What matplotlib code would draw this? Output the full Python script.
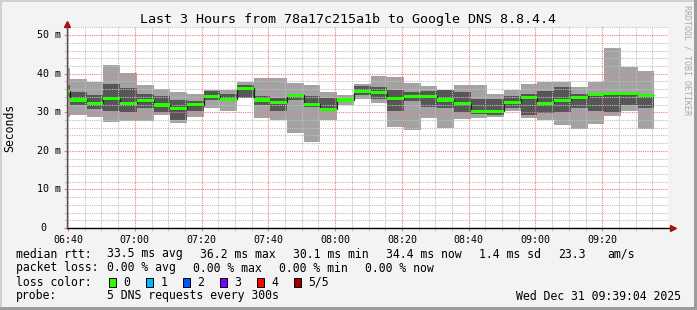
import numpy as np
import matplotlib.pyplot as plt
from matplotlib.patches import Rectangle
from matplotlib.ticker import FixedLocator, FuncFormatter
from matplotlib.transforms import blended_transform_factory

plt.rcParams['font.family'] = 'DejaVu Sans Mono'

W, H = 697, 310

# 5 minute steps (ms), first step is cut by the left edge
rtt_min = [28.8, 29.3, 28.8, 27.5, 27.7, 27.7, 29.3, 27.3, 28.8, 31.2, 30.3, 33.8,
           28.6, 28.0, 24.7, 22.3, 28.0, 31.9, 33.4, 32.5, 26.1, 25.4, 28.4, 26.0,
           28.2, 28.4, 28.8, 30.3, 28.4, 28.0, 26.7, 25.6, 26.9, 29.1, 30.3, 25.6]
rtt_low = [34.0, 31.9, 30.8, 30.3, 30.1, 31.2, 30.0, 28.0, 30.3, 33.2, 32.9, 33.8,
           31.9, 30.3, 33.2, 31.4, 30.5, 32.6, 34.6, 33.4, 30.3, 32.9, 31.4, 31.2,
           30.0, 29.6, 29.4, 31.2, 29.3, 29.7, 30.0, 31.2, 30.3, 30.0, 31.9, 31.0]
rtt_median = [35.5, 33.2, 32.4, 33.5, 32.4, 33.0, 31.9, 30.9, 32.0, 34.2, 33.4, 36.2,
              33.2, 32.6, 34.4, 32.1, 30.8, 33.2, 35.3, 35.1, 33.5, 34.2, 34.2, 33.2,
              32.2, 30.1, 30.3, 32.6, 33.8, 32.4, 33.1, 33.8, 34.5, 34.8, 34.8, 34.4]
rtt_high = [37.2, 35.3, 34.5, 37.3, 36.3, 34.7, 34.2, 33.2, 32.9, 35.5, 34.7, 37.0,
            34.3, 33.8, 34.6, 34.2, 33.8, 33.8, 36.9, 36.6, 35.7, 35.2, 35.5, 35.7,
            35.3, 33.4, 33.4, 34.2, 34.7, 35.6, 36.5, 34.7, 34.9, 35.1, 34.9, 34.8]
rtt_max = [41.4, 38.6, 37.8, 42.2, 40.1, 37.0, 36.0, 35.2, 34.7, 35.9, 35.9, 37.9,
           38.8, 38.8, 37.5, 37.2, 35.3, 34.5, 37.3, 39.4, 39.1, 37.5, 36.8, 35.9,
           37.0, 37.0, 34.7, 35.8, 37.3, 37.9, 37.9, 36.5, 37.9, 46.7, 41.7, 40.7]

time_labels = ['06:40', '07:00', '07:20', '07:40', '08:00', '08:20', '08:40', '09:00', '09:20']
loss_labels = ['0', '1', '2', '3', '4', '5/5']
loss_colors = ['#26ff00', '#00b8ff', '#0059ff', '#7e00ff', '#ff0000', '#a10000']

# step edges in minutes after 06:40
edges = np.concatenate([[-0.4], np.arange(0.6, 176, 5.0)])
left = edges[:-1]
width = np.diff(edges)

rtt_min = np.array(rtt_min)
rtt_low = np.array(rtt_low)
rtt_median = np.array(rtt_median)
rtt_high = np.array(rtt_high)
rtt_max = np.array(rtt_max)

fig = plt.figure(figsize=(W / 100, H / 100), dpi=100, facecolor='#f3f3f3')
ax = fig.add_axes([66.7 / W, 1 - 228 / H, (668 - 66.7) / W, (228 - 26.7) / H])
ax.set_facecolor('white')

# smoke
ax.bar(left, rtt_max - rtt_min, bottom=rtt_min, width=width, align='edge',
       color='#a3a3a3', linewidth=0, zorder=1)
ax.bar(left, rtt_high - rtt_low, bottom=rtt_low, width=width, align='edge',
       color='#565656', linewidth=0, zorder=1.2)
# median
ax.stairs(rtt_median, edges, baseline=None, color='#202020', linewidth=0.9, zorder=3)
ax.bar(left, 0.8, bottom=rtt_median - 0.4, width=width, align='edge',
       color=loss_colors[0], linewidth=0, zorder=3.2)

ax.set_xlim(-0.4, 179.7)
ax.set_ylim(0, 52.2)

xmaj = np.arange(0, 161, 20)
ax.xaxis.set_major_locator(FixedLocator(xmaj))
ax.xaxis.set_minor_locator(FixedLocator([m for m in range(0, 180, 5) if m % 20 != 0]))
ax.yaxis.set_major_locator(FixedLocator(range(0, 51, 10)))
ax.yaxis.set_minor_locator(FixedLocator([v for v in range(0, 53, 2) if v % 10 != 0]))
ax.xaxis.set_major_formatter(FuncFormatter(lambda v, p: time_labels[int(round(v / 20))]))
ax.set_yticklabels([])

# rrdtool style grid, drawn over the smoke with some transparency
ax.set_axisbelow(False)
ax.grid(which='minor', color=(0.75, 0.75, 0.75, 0.7), linestyle=(0, (1, 1)), linewidth=0.8)
ax.grid(which='major', color=(0.9, 0.5, 0.5, 0.7), linestyle=(0, (1, 1)), linewidth=0.8)
ax.tick_params(axis='x', which='both', length=2, width=0.8, pad=3, labelsize=7.2)
ax.tick_params(axis='x', which='major', color='#e08080')
ax.tick_params(axis='x', which='minor', color='#c8c8c8')
ax.tick_params(axis='y', which='both', length=2, width=0.8)
ax.tick_params(axis='y', which='major', color='#e08080')
ax.tick_params(axis='y', which='minor', color='#c8c8c8')

for s in ['top', 'right', 'left', 'bottom']:
    ax.spines[s].set_visible(False)

# axis lines with arrows
ax.plot([0, 1.007], [0, 0], transform=ax.transAxes, color='black', lw=1, clip_on=False, zorder=5)
ax.plot([0, 0], [0, 1.01], transform=ax.transAxes, color='#505050', lw=1, clip_on=False, zorder=5)
ax.plot([1.008], [0], transform=ax.transAxes, marker='>', ms=4.5, color='#a01515', clip_on=False, zorder=6)
ax.plot([0], [1.012], transform=ax.transAxes, marker='^', ms=4.5, color='#a01515', clip_on=False, zorder=6)

# y labels
ytr = blended_transform_factory(fig.transFigure, ax.transData)
for v in range(0, 51, 10):
    if v == 0:
        fig.text(46.5 / W, v, '0', transform=ytr, ha='right', va='center', fontsize=7.2)
    else:
        fig.text(60.5 / W, v, '%d m' % v, transform=ytr, ha='right', va='center', fontsize=7.2)


def ftext(x, y, s, **kw):
    kw.setdefault('fontsize', 8.3)
    fig.text(x / W, 1 - y / H, s, va='center', **kw)


ftext(347.5, 19, 'Last 3 Hours from 78a17c215a1b to Google DNS 8.8.4.4', ha='center', fontsize=9.6)
ftext(10, 127.5, 'Seconds', ha='center', rotation=90)
ftext(687, 60, 'RRDTOOL / TOBI OETIKER', ha='center', rotation=270, fontsize=6, color='#a8a8a8')

ftext(16, 254, 'median rtt:')
ftext(107.3, 254, '33.5 ms avg')
ftext(200, 254, '36.2 ms max')
ftext(293.3, 254, '30.1 ms min')
ftext(386, 254, '34.4 ms now')
ftext(479.3, 254, '1.4 ms sd')
ftext(558.3, 254, '23.3')
ftext(607.3, 254, 'am/s')

ftext(16, 268, 'packet loss:')
ftext(107.3, 268, '0.00 % avg')
ftext(193.3, 268, '0.00 % max')
ftext(279.3, 268, '0.00 % min')
ftext(365, 268, '0.00 % now')

ftext(16, 282, 'loss color:')
box_x = [108.5, 145.8, 182.8, 219.5, 256.8, 293.5]
for bx, lab, col in zip(box_x, loss_labels, loss_colors):
    fig.add_artist(Rectangle((bx / W, 1 - 286.5 / H), 7.5 / W, 9 / H, transform=fig.transFigure,
                             facecolor=col, edgecolor='black', linewidth=0.7))
    ftext(bx + 14.5, 282, lab)

ftext(16, 296, 'probe:')
ftext(107.3, 296, '5 DNS requests every 300s')
ftext(680.5, 296, 'Wed Dec 31 09:39:04 2025', ha='right')

# frame shading
fig.add_artist(Rectangle((0, 1 - 2 / H), 1, 2 / H, transform=fig.transFigure, color='#d0d0d0', lw=0))
fig.add_artist(Rectangle((0, 0), 2 / W, 1, transform=fig.transFigure, color='#d0d0d0', lw=0))
fig.add_artist(Rectangle((1 - 3 / W, 0), 3 / W, 1, transform=fig.transFigure, color='#9c9c9c', lw=0))
fig.add_artist(Rectangle((0, 0), 1, 3 / H, transform=fig.transFigure, color='#9c9c9c', lw=0))

fig.savefig('out.png', dpi=100, facecolor=fig.get_facecolor())
